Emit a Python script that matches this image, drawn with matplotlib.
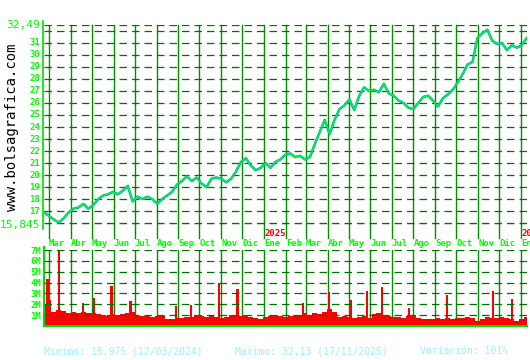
import matplotlib
matplotlib.use("Agg")
import matplotlib.pyplot as plt
import matplotlib.transforms as mtransforms
import pandas as pd

# weekly closes (Friday of each week, from 23/02/2024)
close = [16.9, 16.6, 16.3, 16.05, 16.4, 16.9, 17.2, 17.3, 17.6, 17.2,
         17.5, 18.0, 18.3, 18.4, 18.6, 18.4, 18.7, 19.1, 17.8, 18.2,
         18.0, 18.2, 18.0, 17.6, 18.0, 18.3, 18.6, 19.2, 19.5, 19.9,
         19.5, 19.8, 19.3, 19.0, 19.7, 19.8, 19.7, 19.4, 19.7, 20.3,
         21.1, 21.4, 20.8, 20.4, 20.6, 21.0, 20.6, 21.1, 21.3, 21.7,
         21.8, 21.5, 21.6, 21.3, 21.5, 22.6, 23.6, 24.6, 23.4, 24.6,
         25.5, 25.8, 26.3, 25.4, 26.6, 27.3, 27.0, 27.1, 26.9, 27.6,
         26.8, 26.6, 26.2, 26.0, 25.6, 25.5, 26.0, 26.5, 26.6, 26.2,
         25.7, 26.4, 26.7, 27.1, 27.7, 28.4, 29.2, 29.4, 31.4, 31.8,
         32.1, 31.2, 30.9, 31.0, 30.4, 30.8, 30.6, 30.8, 31.4]

# weekly typical volume (millions)
volume = [2.0, 2.4, 1.3, 1.5, 1.4, 1.2, 1.3, 1.2, 1.3, 1.2,
          1.2, 1.1, 1.0, 0.9, 1.1, 1.0, 1.1, 1.2, 1.3, 0.9,
          0.9, 1.0, 0.8, 0.9, 0.9, 0.6, 0.6, 0.7, 0.7, 0.8,
          0.8, 1.0, 0.9, 0.8, 0.9, 0.8, 0.7, 0.8, 1.0, 1.0,
          0.9, 1.0, 0.8, 0.7, 0.6, 0.8, 0.9, 1.0, 0.9, 0.8,
          0.9, 1.0, 0.9, 1.2, 1.0, 1.2, 1.1, 1.3, 1.6, 1.3,
          0.8, 0.9, 0.8, 0.7, 0.8, 0.9, 0.7, 1.1, 1.2, 1.0,
          0.9, 0.8, 0.8, 0.7, 0.9, 1.0, 0.7, 0.6, 0.6, 0.6,
          0.7, 0.6, 0.7, 0.6, 0.7, 0.7, 0.8, 0.7, 0.5, 0.6,
          0.8, 0.7, 0.7, 0.8, 0.7, 0.6, 0.5, 0.6, 0.8]

# single-day volume spikes
spike_dates = ['2024-02-28', '2024-03-15', '2024-04-19', '2024-05-04', '2024-05-29',
               '2024-06-25', '2024-08-28', '2024-09-19', '2024-10-29', '2024-11-24',
               '2025-02-25', '2025-04-03', '2025-05-04', '2025-05-27', '2025-06-17',
               '2025-07-26', '2025-09-18', '2025-11-22', '2025-12-19']
spike_vols = [4.3, 7.0, 2.1, 2.6, 3.7, 2.3, 1.8, 1.9, 4.0, 3.4,
              2.1, 3.1, 2.4, 3.2, 3.6, 1.7, 2.9, 3.2, 2.5]

month_labels = ['Mar', 'Abr', 'May', 'Jun', 'Jul', 'Ago', 'Sep', 'Oct', 'Nov', 'Dic',
                'Ene', 'Feb', 'Mar', 'Abr', 'May', 'Jun', 'Jul', 'Ago', 'Sep', 'Oct',
                'Nov', 'Dic', 'Ene']
year_labels = ['2025', '2026']
price_min, price_max = 15.845, 32.49

dates = pd.date_range('2024-02-23', periods=len(close), freq='7D')
months = pd.date_range('2024-03-01', periods=len(month_labels), freq='MS')
years = pd.to_datetime(['2025-01-01', '2026-01-01'])
xlim = (pd.Timestamp('2024-02-23'), pd.Timestamp('2026-01-09 12:00'))

LIME = '#00ff00'
AXIS = '#00dd00'
DASH = '#007000'
VLINE = '#009000'
mono = 'DejaVu Sans Mono'

fig = plt.figure(figsize=(5.3, 3.6), dpi=100)
fig.patch.set_facecolor('white')
ax = fig.add_axes([44 / 530, 1 - 225 / 360, 483 / 530, 200 / 360])
vax = fig.add_axes([44 / 530, 1 - 326 / 360, 483 / 530, 76 / 360])

# price chart
for m in months:
    ax.axvline(m, ymin=-0.065, ymax=1, color=VLINE, lw=1.0, clip_on=False, zorder=1)
grid_levels = [price_min] + list(range(16, 33)) + [price_max]
for v in grid_levels:
    ax.axhline(v, color=DASH, lw=0.9, ls=(0, (6, 4)), zorder=1)
ax.plot(dates, close, color='#00a0a8', lw=1.8, zorder=3)
ax.plot(dates, close, color='#00ff33', lw=0.9, zorder=4)
ax.set_xlim(xlim)
ax.set_ylim(price_min, price_max)
ax.set_xticks([])
ax.set_yticks([])

ytrans = mtransforms.blended_transform_factory(ax.transAxes, ax.transData)
for v in range(17, 32):
    ax.text(-0.008, v, str(v), transform=ytrans, family=mono, fontsize=6.5,
            fontweight='bold', color=LIME, ha='right', va='center')
ax.text(-0.008, price_max, '32,49', transform=ytrans, family=mono, fontsize=8,
        color=LIME, ha='right', va='center')
ax.text(-0.008, price_min, '15,845', transform=ytrans, family=mono, fontsize=8,
        color=LIME, ha='right', va='center')

for s in ['top', 'right', 'bottom']:
    ax.spines[s].set_visible(False)
ax.spines['left'].set_color(AXIS)
ax.spines['left'].set_linewidth(1.2)
ax.spines['left'].set_bounds(15.5, 32.8)
ax.spines['left'].set_position(('outward', 1))
trans = mtransforms.blended_transform_factory(ax.transData, ax.transAxes)
for d, lab in zip(years, year_labels):
    ax.text(d, -0.045, lab, transform=trans, color='#ff0000', fontsize=6.5,
            family=mono, fontweight='bold', ha='left', va='center', clip_on=False)

# volume chart
for m in months:
    vax.axvline(m, color=VLINE, lw=1.0, zorder=1)
vax.bar(dates, volume, width=7, color='#ff0000', lw=0, zorder=2)
vax.bar(pd.to_datetime(spike_dates), spike_vols, width=3, color='#ff0000', lw=0,
        antialiased=False, zorder=2)
for v in range(1, 8):
    vax.axhline(v, color=DASH, lw=0.9, ls=(0, (6, 4)), zorder=3)
vax.set_xlim(xlim)
vax.set_ylim(0, 7)
vax.set_yticks(range(1, 8))
vax.set_yticklabels([f'{v}M' for v in range(1, 8)], family=mono, fontsize=6.5,
                    fontweight='bold')
vax.tick_params(axis='y', length=0, pad=2, labelcolor=LIME)
vax.xaxis.tick_top()
vax.set_xticks(months)
vax.set_xticklabels(month_labels, family=mono, fontsize=6.5, fontweight='bold',
                    ha='left')
vax.tick_params(axis='x', length=0, pad=1.5, labelcolor=LIME)
for s in ['top', 'right']:
    vax.spines[s].set_visible(False)
for s in ['left', 'bottom']:
    vax.spines[s].set_color(AXIS)
    vax.spines[s].set_linewidth(1.5)
vax.spines['left'].set_bounds(0, 7.3)

# watermark and footer
fig.text(12 / 530, 1 - 127 / 360, 'www.bolsagrafica.com', rotation=90, family=mono,
         fontsize=10, color='black', ha='center', va='center')
foot = '#99eeff'
fig.text(44 / 530, 1 - 351 / 360, 'Minimo: 15,975 (12/03/2024)', family=mono,
         fontsize=7, color=foot, va='center')
fig.text(235 / 530, 1 - 351 / 360, 'Maximo: 32,13 (17/11/2025)', family=mono,
         fontsize=7, color=foot, va='center')
fig.text(420 / 530, 1 - 351 / 360, 'Variación: 101%', family=mono,
         fontsize=7, color=foot, va='center')

fig.savefig('out.png', dpi=100)
